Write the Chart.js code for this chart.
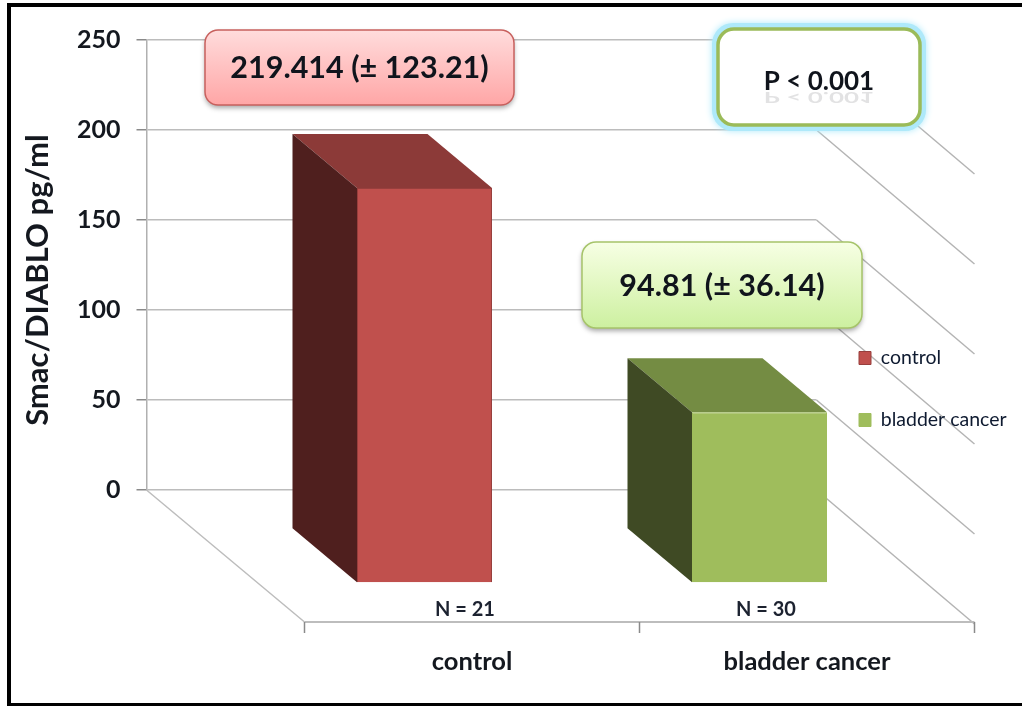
<!DOCTYPE html>
<html>
<head>
<meta charset="utf-8">
<title>Smac/DIABLO</title>
<script src="https://cdn.jsdelivr.net/npm/chart.js@4"></script>
<style>
  html, body { margin: 0; padding: 0; background: #fff; }
  canvas { display: block; }
</style>
</head>
<body>
<canvas id="myChart" width="1022" height="706"></canvas>
<script>
const categories = ['control', 'bladder cancer'];
const controlValues = [219.414, null];
const cancerValues = [null, 94.81];
const yTicks = [0, 50, 100, 150, 200, 250];
const sampleLabels = ['N = 21', 'N = 30'];
const yAxisTitle = 'Smac/DIABLO pg/ml';

const FONT = 'Lato, "Open Sans", sans-serif';

// how far the floor runs towards the viewer, and where the bars sit on it
const floorDepth = { x: 158, y: 132 };
const barBack = { x: 46, y: 39 };
const barFront = { x: 110.5, y: 93 };

const faces = {
  control: { front: '#c0504d', top: '#8c3a38', side: '#4f1f1e' },
  cancer: { front: '#9fbd5c', top: '#748c43', side: '#3f4a24' }
};
const faceList = [faces.control, faces.cancer];

function poly(ctx, pts, fill) {
  ctx.beginPath();
  pts.forEach((p, i) => i ? ctx.lineTo(p[0], p[1]) : ctx.moveTo(p[0], p[1]));
  ctx.closePath();
  ctx.fillStyle = fill;
  ctx.fill();
}

function line(ctx, x1, y1, x2, y2, color, width) {
  ctx.beginPath();
  ctx.moveTo(x1, y1);
  ctx.lineTo(x2, y2);
  ctx.strokeStyle = color;
  ctx.lineWidth = width;
  ctx.stroke();
}

function roundBox(ctx, x, y, w, h, r) {
  ctx.beginPath();
  ctx.roundRect(x, y, w, h, r);
}

// floor and right-hand wall of the 3D box
const wallPlugin = {
  id: 'wall',
  beforeDraw(chart) {
    const { ctx, scales: { x, y } } = chart;
    ctx.save();
    yTicks.forEach(v => {
      const py = y.getPixelForValue(v);
      line(ctx, x.right, py, x.right + floorDepth.x, py + floorDepth.y + 2, '#b4b4b4', 1.5);
    });
    const y0 = y.getPixelForValue(0);
    const fx = floorDepth.x, fy = y0 + floorDepth.y;
    line(ctx, x.left, y0, x.left + fx, fy, '#bdbdbd', 1.5);
    line(ctx, x.left + fx, fy, x.right + fx, fy, '#bdbdbd', 2);
    [0, 1, 2].forEach(i => {
      const tx = x.left + fx + i * (x.right - x.left) / categories.length;
      line(ctx, tx, fy, tx, fy + 11, '#8a8a8a', 1.5);
    });
    ctx.restore();
  }
};

// each bar is drawn by Chart.js as the front face, pushed forward onto the floor
const depthPlugin = {
  id: 'depth',
  beforeDatasetDraw(chart, args) {
    const { ctx } = chart;
    const color = faceList[args.index];
    const dx = barFront.x - barBack.x, dy = barFront.y - barBack.y;
    args.meta.data.forEach((bar, i) => {
      if (chart.data.datasets[args.index].data[i] == null) return;
      const left = bar.x - bar.width / 2 + barFront.x;
      const right = bar.x + bar.width / 2 + barFront.x;
      const top = bar.y + barFront.y;
      const bottom = bar.base + barFront.y;
      poly(ctx, [[left, top], [left - dx, top - dy], [right - dx, top - dy], [right, top]], color.top);
      poly(ctx, [[left, top], [left - dx, top - dy], [left - dx, bottom - dy], [left, bottom]], color.side);
    });
    ctx.save();
    ctx.translate(barFront.x, barFront.y);
  },
  afterDatasetDraw(chart) {
    chart.ctx.restore();
  }
};

// the legend sits over the right wall, outside the normal layout
const legendPlugin = {
  id: 'legendPlace',
  afterLayout(chart) {
    const l = chart.legend;
    const w = l.width, h = l.height;
    l.left = 816.5;
    l.top = 305.75;
    l.right = l.left + w;
    l.bottom = l.top + h + 100;
  }
};

function callout(ctx, o) {
  ctx.save();
  if (o.glow) {
    roundBox(ctx, o.x - 6, o.y - 6, o.w + 12, o.h + 12, o.r + 5);
    ctx.shadowColor = o.glow;
    ctx.shadowBlur = 7;
    ctx.fillStyle = o.glow;
    ctx.fill();
    ctx.shadowBlur = 0;
  } else {
    ctx.shadowColor = 'rgba(0,0,0,0.35)';
    ctx.shadowBlur = 5;
    ctx.shadowOffsetY = 3;
  }
  roundBox(ctx, o.x, o.y, o.w, o.h, o.r);
  if (o.colors) {
    const g = ctx.createLinearGradient(0, o.y, 0, o.y + o.h);
    g.addColorStop(0, o.colors[0]);
    g.addColorStop(1, o.colors[1]);
    ctx.fillStyle = g;
  } else {
    ctx.fillStyle = '#fff';
  }
  ctx.fill();
  ctx.shadowColor = 'transparent';
  ctx.strokeStyle = o.border;
  ctx.lineWidth = o.borderWidth;
  ctx.stroke();
  ctx.font = o.font;
  ctx.fillStyle = '#10141c';
  ctx.textAlign = 'center';
  ctx.textBaseline = 'alphabetic';
  const cx = o.x + o.w / 2, base = o.y + o.h / 2 + o.textDy;
  ctx.fillText(o.text, cx, base);
  if (o.reflect) {
    // faint mirrored copy under the text
    ctx.globalAlpha = 0.12;
    ctx.translate(cx, base + 2);
    ctx.scale(1, -0.55);
    ctx.fillText(o.text, 0, 0);
  }
  ctx.restore();
}

const notesPlugin = {
  id: 'notes',
  afterDraw(chart) {
    const { ctx, scales: { x } } = chart;
    callout(ctx, {
      x: 205, y: 30, w: 309, h: 75, r: 13,
      colors: ['#ffdcdc', '#ffa6a6'], border: '#c8605d', borderWidth: 1.5,
      text: '219.414 (± 123.21)', font: 'bold 30.5px ' + FONT, textDy: 10
    });
    callout(ctx, {
      x: 582, y: 242, w: 280, h: 86, r: 14,
      colors: ['#f7ffe4', '#cdf0a0'], border: '#a6c46a', borderWidth: 1.5,
      text: '94.81 (± 36.14)', font: 'bold 30.5px ' + FONT, textDy: 11
    });
    callout(ctx, {
      x: 718, y: 29, w: 202, h: 96, r: 16, glow: '#aee9fa',
      border: '#9bbb59', borderWidth: 3.5,
      text: 'P < 0.001', font: 'bold 26px ' + FONT, textDy: 13, reflect: true
    });

    ctx.save();
    ctx.font = 'bold 20px ' + FONT;
    ctx.fillStyle = '#1c2230';
    ctx.textAlign = 'center';
    ctx.textBaseline = 'middle';
    sampleLabels.forEach((s, i) => {
      ctx.fillText(s, x.getPixelForValue(i) + [151, 117][i], 610);
    });

    // frame on the left, top and bottom
    ctx.fillStyle = '#000';
    ctx.fillRect(7, 3, 4, 703);
    ctx.fillRect(7, 3, 1015, 4);
    ctx.fillRect(7, 703, 1015, 3);
    ctx.restore();
  }
};

new Chart(document.getElementById('myChart').getContext('2d'), {
  type: 'bar',
  data: {
    labels: categories,
    datasets: [
      {
        label: 'control',
        data: controlValues,
        backgroundColor: faces.control.front,
        borderColor: '#983f3d',
        borderWidth: 1,
        clip: false
      },
      {
        label: 'bladder cancer',
        data: cancerValues,
        backgroundColor: faces.cancer.front,
        borderColor: faces.cancer.front,
        borderWidth: 1,
        clip: false
      }
    ]
  },
  options: {
    responsive: false,
    animation: false,
    barPercentage: 1,
    categoryPercentage: 0.403,
    layout: { padding: { top: 40, left: 0, right: 205.5, bottom: 0 } },
    plugins: {
      tooltip: { enabled: false },
      legend: {
        position: 'chartArea',
        align: 'start',
        labels: {
          boxWidth: 12,
          boxHeight: 13,
          padding: 42.5,
          color: '#0e1a30',
          font: { family: FONT, size: 19.5 }
        }
      }
    },
    scales: {
      x: {
        stacked: true,
        afterFit(scale) { scale.height = 216; },
        grid: { display: false, drawTicks: false },
        border: { display: false },
        ticks: {
          autoSkip: false,
          maxRotation: 0,
          padding: 156,
          labelOffset: floorDepth.x,
          color: '#14181f',
          font: { family: FONT, size: 25.5, weight: 'bold' }
        }
      },
      y: {
        stacked: true,
        min: 0,
        max: 250,
        afterFit(scale) { scale.width = 146.5; },
        afterBuildTicks(scale) { scale.ticks = yTicks.map(value => ({ value })); },
        grid: { color: '#bcbcbc', lineWidth: 1.5, tickLength: 10, tickColor: '#8a8a8a' },
        border: { color: '#b0b0b0', width: 1.5 },
        ticks: {
          padding: 16,
          color: '#14181f',
          font: { family: FONT, size: 25, weight: 'bold' }
        },
        title: {
          display: true,
          text: yAxisTitle + '\u00a0'.repeat(4),
          color: '#14181f',
          padding: { top: 19, bottom: 0 },
          font: { family: FONT, size: 31, weight: 'bold' }
        }
      }
    }
  },
  plugins: [wallPlugin, depthPlugin, legendPlugin, notesPlugin]
});
</script>
</body>
</html>
